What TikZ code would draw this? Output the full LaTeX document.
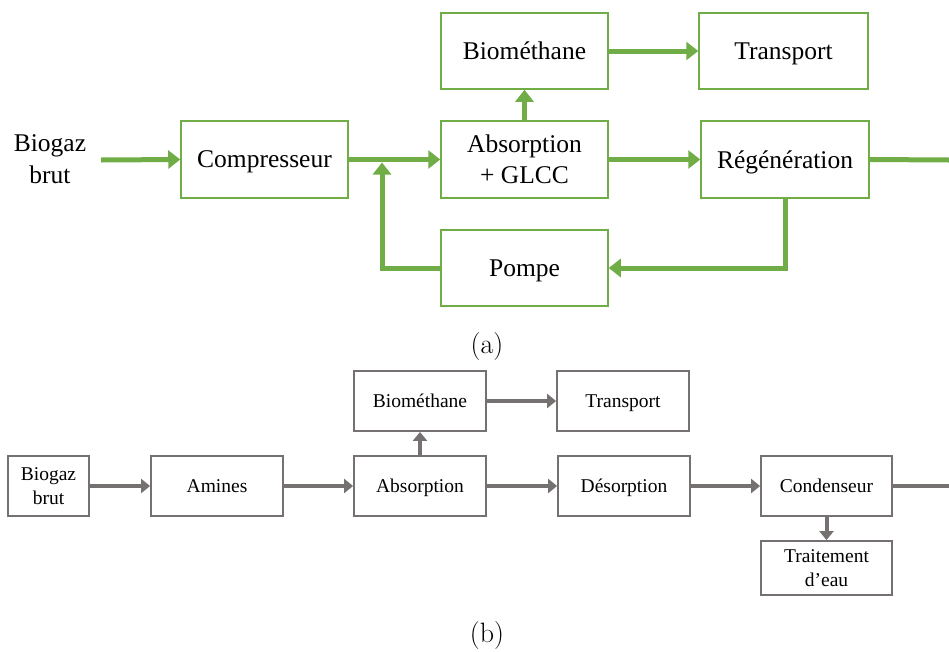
\documentclass[tikz,border=0pt]{standalone}
\usepackage{fontspec}
\setmainfont{Liberation Serif}
\newfontfamily\lmfont{Latin Modern Roman}
\usetikzlibrary{arrows.meta,calc}
\definecolor{grn}{HTML}{70AD47}
\definecolor{gry}{HTML}{767171}
\begin{document}
\begin{tikzpicture}[x=1pt,y=-1pt,
  boxA/.style={draw=grn, line width=1.5pt, inner sep=0pt, align=center,
    text depth=0pt, font=\fontsize{25.5}{31}\selectfont},
  boxB/.style={draw=gry, line width=1.8pt, inner sep=0pt, align=center,
    text depth=0pt, font=\fontsize{19.5}{24}\selectfont},
  arrA/.style={draw=grn, line width=5pt, -{Triangle[length=12pt,width=18pt]}},
  lineA/.style={draw=grn, line width=5pt},
  arrB/.style={draw=gry, line width=4pt, -{Triangle[length=9pt,width=14pt]}},
  lineB/.style={draw=gry, line width=4pt},
  sublabel/.style={font=\lmfont\fontsize{28}{32}\selectfont}
]
\useasboundingbox (0,0) rectangle (949,651);

% ---------- (a) ----------
\node[font=\fontsize{25.5}{32}\selectfont, align=center, inner sep=0pt] (bgA) at (50,159) {Biogaz\\brut};
\node[boxA, minimum width=167pt, minimum height=77pt] (comp) at (264.5,159.5) {Compresseur};
\node[boxA, minimum width=167pt, minimum height=77pt] (absA) at (524.5,159.5) {Absorption\\+ GLCC};
\node[boxA, minimum width=167pt, minimum height=76pt] (bioA) at (524.5,51) {Biométhane};
\node[boxA, minimum width=169pt, minimum height=76pt] (trA) at (783.5,51) {Transport};
\node[boxA, minimum width=168pt, minimum height=77pt] (regA) at (785,159.5) {Régénération};
\node[boxA, minimum width=167pt, minimum height=76pt] (pomA) at (524.5,268) {Pompe};
\coordinate (inA) at (101,160);
\coordinate (outA) at (949,160);
\coordinate (joinA) at (382,162.5);

\draw[arrA] (inA) -- (comp.west);
\draw[arrA] (comp.east) -- (absA.west);
\draw[arrA] (absA.north) -- (bioA.south);
\draw[arrA] (bioA.east) -- (trA.west);
\draw[arrA] (absA.east) -- (regA.west);
\draw[lineA] (regA.east) -- (outA);
\draw[arrA] (regA.south) |- (pomA.east);
\draw[arrA] (pomA.west) -| (joinA);

\node[sublabel] (labA) at (487,347) {(a)};

% ---------- (b) ----------
\node[boxB, minimum width=81pt, minimum height=60pt] (bgB) at (48.5,486) {Biogaz\\brut};
\node[boxB, minimum width=132pt, minimum height=60pt] (amB) at (217,486) {Amines};
\node[boxB, minimum width=132pt, minimum height=60pt] (absB) at (420,486) {Absorption};
\node[boxB, minimum width=132pt, minimum height=60pt] (bioB) at (420,401) {Biométhane};
\node[boxB, minimum width=132pt, minimum height=60pt] (trB) at (623,401) {Transport};
\node[boxB, minimum width=132pt, minimum height=60pt] (desB) at (624,486) {Désorption};
\node[boxB, minimum width=131pt, minimum height=60pt] (conB) at (826.5,486) {Condenseur};
\node[boxB, minimum width=131pt, minimum height=54pt] (traB) at (826.5,568) {Traitement\\d’eau};
\coordinate (outB) at (949,486);

\draw[arrB] (bgB.east) -- (amB.west);
\draw[arrB] (amB.east) -- (absB.west);
\draw[arrB] (absB.north) -- (bioB.south);
\draw[arrB] (bioB.east) -- (trB.west);
\draw[arrB] (absB.east) -- (desB.west);
\draw[arrB] (desB.east) -- (conB.west);
\draw[lineB] (conB.east) -- (outB);
\draw[arrB] (conB.south) -- (traB.north);

\node[sublabel] (labB) at (487,636) {(b)};
\end{tikzpicture}
\end{document}
